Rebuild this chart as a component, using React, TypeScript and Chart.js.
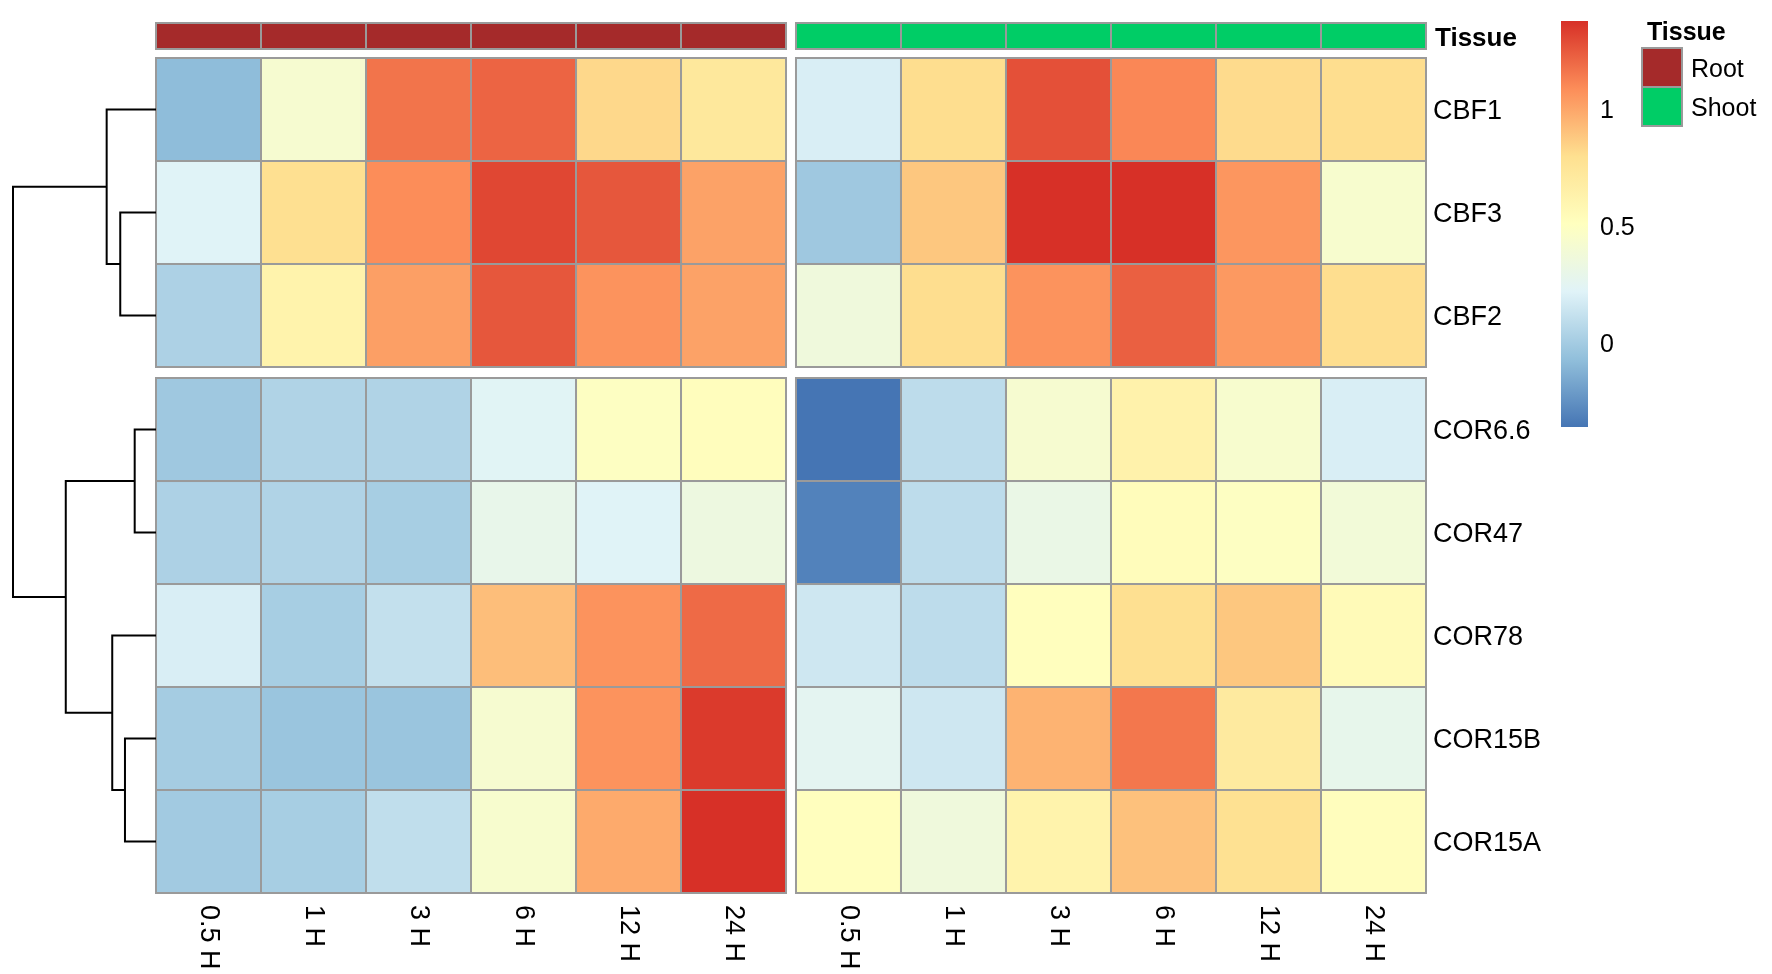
import React, { useEffect, useRef } from "react";
import { Chart, registerables } from "chart.js";

Chart.register(...registerables);

// ---------------- data ----------------
const timePoints = ["0.5 H", "1 H", "3 H", "6 H", "12 H", "24 H"];
const tissues = ["Root", "Shoot"];
const tissueColors = ["#A52A2A", "#00CD66"];
const genes = ["CBF1", "CBF3", "CBF2", "COR6.6", "COR47", "COR78", "COR15B", "COR15A"];
const rowSplitAfter = 3; // cutree_rows gap after 3rd gene

// values per gene: Root (6 time points) then Shoot (6 time points)
const cbf1 = [-0.08, 0.42, 1.16, 1.21, 0.82, 0.72, 0.19, 0.8, 1.27, 1.1, 0.81, 0.8];
const cbf3 = [0.22, 0.79, 1.08, 1.3, 1.25, 1.01, -0.02, 0.88, 1.37, 1.37, 1.05, 0.43];
const cbf2 = [0.03, 0.62, 1.02, 1.25, 1.06, 1.01, 0.36, 0.8, 1.06, 1.22, 1.04, 0.8];
const cor66 = [-0.02, 0.04, 0.04, 0.23, 0.49, 0.52, -0.36, 0.09, 0.42, 0.63, 0.43, 0.19];
const cor47 = [0.03, 0.04, 0.01, 0.29, 0.22, 0.34, -0.31, 0.09, 0.31, 0.53, 0.49, 0.38];
const cor78 = [0.19, 0.01, 0.11, 0.91, 1.06, 1.19, 0.15, 0.09, 0.51, 0.79, 0.88, 0.55];
const cor15b = [0.0, -0.04, -0.04, 0.42, 1.06, 1.34, 0.25, 0.15, 0.95, 1.15, 0.7, 0.28];
const cor15a = [-0.01, 0.01, 0.1, 0.43, 0.98, 1.37, 0.51, 0.36, 0.62, 0.9, 0.78, 0.52];
const expression = [cbf1, cbf3, cbf2, cor66, cor47, cor78, cor15b, cor15a];

// row dendrogram (hclust style: negative = leaf -(row+1), positive = earlier merge number)
const mergeLeft = [-2, -1, -4, -7, -6, 3, 2];
const mergeRight = [-3, 1, -5, -8, 4, 5, 6];
const mergeHeight = [0.25, 0.345, 0.149, 0.217, 0.306, 0.631, 1.0];

const colorbarTicks = [0, 0.5, 1];
const palette = ["#4575B4", "#91BFDB", "#E0F3F8", "#FFFFBF", "#FEE090", "#FC8D59", "#D73027"];

// ---------------- layout ----------------
const W = 1772;
const H = 974;
const FONT = "'Liberation Sans', Arial, Helvetica, sans-serif";
const GAP_X = 0.095; // gap between tissue blocks in column units
const GAP_Y = 0.107; // gap between row clusters in row units
const TREE_LEFT = 13;
const HEAT_LEFT = 156;
const HEAT_RIGHT = 1426;
const HEAT_TOP = 58;
const HEAT_BOTTOM = 893;
const BORDER = "#9A9A9A";

const nCols = timePoints.length * tissues.length;
const xUnits = nCols + GAP_X;
const pxPerCol = (HEAT_RIGHT - HEAT_LEFT) / xUnits;
const xMin = -(HEAT_LEFT - TREE_LEFT) / pxPerCol;
const treePx = HEAT_LEFT - TREE_LEFT;
const treeMaxH = Math.max(...mergeHeight);
const xdMin = -((HEAT_RIGHT - HEAT_LEFT) / treePx) * treeMaxH;

const colCenter = (j: number) => j + (j >= timePoints.length ? GAP_X : 0) + 0.5;
const rowCenter = (i: number) => i + (i >= rowSplitAfter ? GAP_Y : 0) + 0.5;

const allVals = expression.flat();
const vMin = Math.min(...allVals);
const vMax = Math.max(...allVals);

function hexToRgb(h: string) {
  const n = parseInt(h.slice(1), 16);
  return [(n >> 16) & 255, (n >> 8) & 255, n & 255];
}
const paletteRgb = palette.map(hexToRgb);
function colorFor(v: number) {
  let t = (v - vMin) / (vMax - vMin);
  t = Math.max(0, Math.min(1, t));
  const pos = t * (paletteRgb.length - 1);
  const i = Math.min(Math.floor(pos), paletteRgb.length - 2);
  const f = pos - i;
  const a = paletteRgb[i];
  const b = paletteRgb[i + 1];
  const c = a.map((av, k) => Math.round(av + (b[k] - av) * f));
  return `rgb(${c[0]},${c[1]},${c[2]})`;
}

// cells
const cellData: { x: number; y: number; v: number }[] = [];
expression.forEach((row, i) =>
  row.forEach((v, j) => cellData.push({ x: colCenter(j), y: rowCenter(i), v }))
);

// dendrogram segments
function buildTree() {
  const nodeY: number[] = [];
  const segs: { x: number; y: number }[][] = [];
  const child = (idx: number) =>
    idx < 0 ? { y: rowCenter(-idx - 1), h: 0 } : { y: nodeY[idx - 1], h: mergeHeight[idx - 1] };
  for (let k = 0; k < mergeHeight.length; k++) {
    const a = child(mergeLeft[k]);
    const b = child(mergeRight[k]);
    const h = mergeHeight[k];
    nodeY[k] = (a.y + b.y) / 2;
    segs.push([
      { x: a.h, y: a.y },
      { x: h, y: a.y },
      { x: h, y: b.y },
      { x: b.h, y: b.y },
    ]);
  }
  return segs;
}

const heatPlugin = {
  id: "heat",
  beforeDatasetsDraw(chart: any) {
    const { ctx } = chart;
    const xs = chart.scales.x;
    const ys = chart.scales.y;
    ctx.save();
    const rects = cellData.map((c) => {
      const x0 = xs.getPixelForValue(c.x - 0.5);
      const x1 = xs.getPixelForValue(c.x + 0.5);
      const y0 = ys.getPixelForValue(c.y - 0.5);
      const y1 = ys.getPixelForValue(c.y + 0.5);
      return { x0, x1, y0, y1, v: c.v };
    });
    rects.forEach((r) => {
      ctx.fillStyle = colorFor(r.v);
      ctx.fillRect(r.x0, r.y0, r.x1 - r.x0, r.y1 - r.y0);
    });
    ctx.strokeStyle = BORDER;
    ctx.lineWidth = 2;
    rects.forEach((r) => ctx.strokeRect(r.x0, r.y0, r.x1 - r.x0, r.y1 - r.y0));
    ctx.restore();
  },
  afterDraw(chart: any) {
    const { ctx, chartArea } = chart;
    const xs = chart.scales.x;
    ctx.save();

    // annotation bar
    const annTop = chartArea.top - 35;
    const annBottom = chartArea.top - 9;
    for (let j = 0; j < nCols; j++) {
      const x0 = xs.getPixelForValue(colCenter(j) - 0.5);
      const x1 = xs.getPixelForValue(colCenter(j) + 0.5);
      ctx.fillStyle = tissueColors[j >= timePoints.length ? 1 : 0];
      ctx.fillRect(x0, annTop, x1 - x0, annBottom - annTop);
      ctx.strokeStyle = BORDER;
      ctx.lineWidth = 2;
      ctx.strokeRect(x0, annTop, x1 - x0, annBottom - annTop);
    }
    ctx.fillStyle = "#000";
    ctx.font = `bold 26px ${FONT}`;
    ctx.textAlign = "left";
    ctx.textBaseline = "middle";
    ctx.fillText("Tissue", chartArea.right + 9, (annTop + annBottom) / 2 + 3);

    // column labels (rotated, reading top to bottom)
    ctx.font = `27px ${FONT}`;
    for (let j = 0; j < nCols; j++) {
      const x = xs.getPixelForValue(colCenter(j));
      ctx.save();
      ctx.translate(x, chartArea.bottom + 12);
      ctx.rotate(Math.PI / 2);
      ctx.textAlign = "left";
      ctx.textBaseline = "middle";
      ctx.fillText(timePoints[j % timePoints.length], 0, 0);
      ctx.restore();
    }

    // colour bar
    const cbL = 1561, cbR = 1588, cbT = 21, cbB = 427;
    const grad = ctx.createLinearGradient(0, cbB, 0, cbT);
    palette.forEach((c, i) => grad.addColorStop(i / (palette.length - 1), c));
    ctx.fillStyle = grad;
    ctx.fillRect(cbL, cbT, cbR - cbL, cbB - cbT);
    ctx.fillStyle = "#000";
    ctx.font = `25px ${FONT}`;
    ctx.textAlign = "left";
    ctx.textBaseline = "middle";
    colorbarTicks.forEach((t) => {
      const y = cbT + ((vMax - t) / (vMax - vMin)) * (cbB - cbT);
      ctx.fillText(String(t), 1600, y + 3);
    });

    // tissue legend
    ctx.font = `bold 25px ${FONT}`;
    ctx.fillText("Tissue", 1647, 33);
    tissues.forEach((t, i) => {
      const y0 = 48 + i * 39;
      ctx.fillStyle = tissueColors[i];
      ctx.fillRect(1642, y0, 40, 39);
      ctx.strokeStyle = BORDER;
      ctx.lineWidth = 2;
      ctx.strokeRect(1642, y0, 40, 39);
      ctx.fillStyle = "#000";
      ctx.font = `25px ${FONT}`;
      ctx.fillText(t, 1691, y0 + 22);
    });

    ctx.restore();
  },
};

export default function App() {
  const ref = useRef<HTMLCanvasElement | null>(null);
  useEffect(() => {
    if (!ref.current) return;
    const segs = buildTree();
    const chart = new Chart(ref.current, {
      type: "scatter",
      data: {
        datasets: [
          {
            data: cellData as any,
            pointRadius: 0,
            xAxisID: "x",
            yAxisID: "y",
          } as any,
          ...segs.map((s) => ({
            data: s,
            showLine: true,
            borderColor: "#000",
            borderWidth: 2,
            pointRadius: 0,
            tension: 0,
            clip: false,
            xAxisID: "xd",
            yAxisID: "y",
          })),
        ],
      },
      options: {
        responsive: false,
        animation: false,
        events: [],
        layout: {
          padding: { left: TREE_LEFT, top: HEAT_TOP, bottom: H - HEAT_BOTTOM, right: 0 },
        },
        plugins: { legend: { display: false }, tooltip: { enabled: false } },
        scales: {
          x: { type: "linear", display: false, min: xMin, max: xUnits, bounds: "data" },
          xd: { type: "linear", display: false, reverse: true, min: xdMin, max: treeMaxH, bounds: "data" },
          y: {
            type: "linear",
            position: "right",
            reverse: true,
            min: 0,
            max: genes.length + GAP_Y,
            bounds: "data",
            grid: { display: false, drawTicks: false },
            border: { display: false },
            afterBuildTicks: (scale: any) => {
              scale.ticks = genes.map((_, i) => ({ value: rowCenter(i) }));
            },
            afterFit: (scale: any) => {
              scale.width = W - HEAT_RIGHT;
            },
            ticks: {
              autoSkip: false,
              padding: 7,
              labelOffset: 2,
              color: "#000",
              font: { size: 27, family: FONT },
              callback: (_v: any, idx: number) => genes[idx],
            },
          },
        },
      },
      plugins: [heatPlugin],
    });
    return () => chart.destroy();
  }, []);
  return (
    <div style={{ position: "absolute", left: 0, top: 0, width: W, height: H, background: "#fff" }}>
      <canvas ref={ref} width={W} height={H} style={{ display: "block" }} />
    </div>
  );
}
